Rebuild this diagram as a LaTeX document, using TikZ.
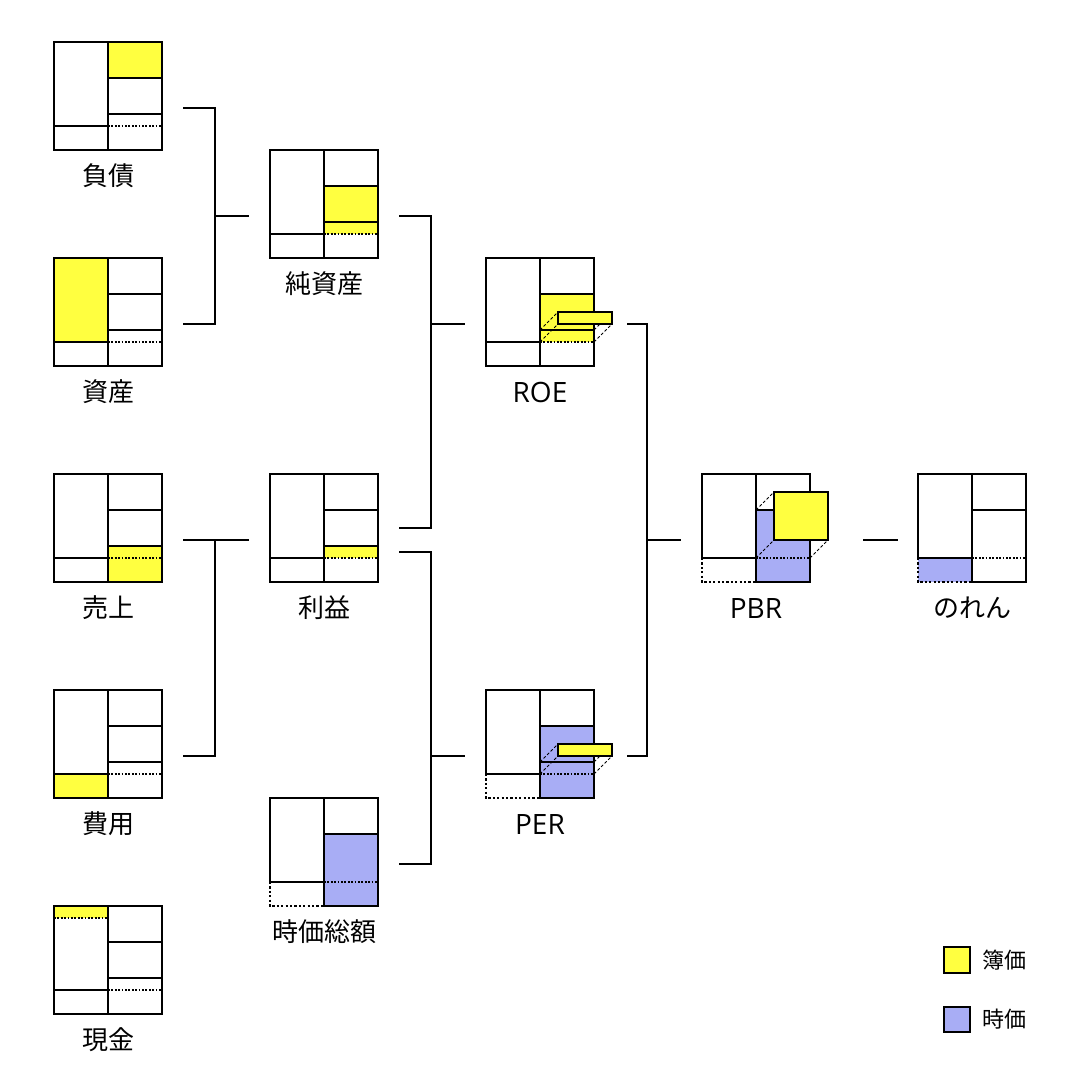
\documentclass[tikz,border=0pt]{standalone}
\usepackage{fontspec}
\setmainfont{Open Sans}
\newfontfamily\cjk{Noto Sans CJK JP}
\definecolor{yel}{RGB}{255,255,64}
\definecolor{blu}{RGB}{168,173,245}
\newcommand\bsfull{%
 \draw[bx] (0,0) rectangle (108,108);
 \draw[bx] (54,0) -- (54,108);
 \draw[bx] (0,84) -- (54,84);
 \draw[bx] (54,36) -- (108,36);
 \draw[bx] (54,72) -- (108,72);
 \draw[dl] (54,84) -- (108,84);}
\newcommand\bsopen{%
 \draw[bx] (0,84) -- (0,0) -- (108,0) -- (108,108) -- (54,108);
 \draw[bx] (54,0) -- (54,108);
 \draw[bx] (0,84) -- (54,84);
 \draw[bx] (54,36) -- (108,36);
 \draw[dlo] (0,84) -- (0,108) -- (54,108);
 \draw[dl] (54,84) -- (108,84);}
\begin{document}
\begin{tikzpicture}[x=1pt,y=-1pt,
  bx/.style={line width=2.7pt, line cap=rect, line join=miter},
  dl/.style={line width=1.6pt, dash pattern=on 1.7pt off 1.7pt},
  dlo/.style={line width=2.5pt, dash pattern=on 2.2pt off 2.2pt},
  thd/.style={line width=0.8pt, dash pattern=on 3pt off 2pt},
  conn/.style={line width=2.4pt, line join=miter},
  jlab/.style={inner sep=0pt, font=\cjk\fontsize{26}{30}\selectfont},
  llab/.style={inner sep=0pt, font=\fontsize{28}{32}\selectfont},
  leg/.style={inner sep=0pt, anchor=west, font=\cjk\fontsize{22}{26}\selectfont}
]
\useasboundingbox (0,0) rectangle (1080,1080);
\fill[white] (0,0) rectangle (1080,1080);

% ---------- column 1 ----------
\begin{scope}[shift={(54,42)}]
 \fill[yel] (54,0) rectangle (108,36);
 \bsfull
\end{scope}
\node[jlab] (lfusai) at (108,176) {負債};

\begin{scope}[shift={(54,258)}]
 \fill[yel] (0,0) rectangle (54,84);
 \bsfull
\end{scope}
\node[jlab] (lshisan) at (108,392) {資産};

\begin{scope}[shift={(54,474)}]
 \fill[yel] (54,72) rectangle (108,108);
 \bsfull
\end{scope}
\node[jlab] (luriage) at (108,608) {売上};

\begin{scope}[shift={(54,690)}]
 \fill[yel] (0,84) rectangle (54,108);
 \bsfull
\end{scope}
\node[jlab] (lhiyou) at (108,824) {費用};

\begin{scope}[shift={(54,906)}]
 \fill[yel] (0,0) rectangle (54,12);
 \bsfull
 \draw[dl] (0,12) -- (54,12);
\end{scope}
\node[jlab] (lgenkin) at (108,1040) {現金};

% ---------- column 2 ----------
\begin{scope}[shift={(270,150)}]
 \fill[yel] (54,36) rectangle (108,84);
 \bsfull
\end{scope}
\node[jlab] (ljun) at (324,284) {純資産};

\begin{scope}[shift={(270,474)}]
 \fill[yel] (54,72) rectangle (108,84);
 \bsfull
\end{scope}
\node[jlab] (lrieki) at (324,608) {利益};

\begin{scope}[shift={(270,798)}]
 \fill[blu] (54,36) rectangle (108,108);
 \bsopen
\end{scope}
\node[jlab] (ljika) at (324,932) {時価総額};

% ---------- column 3 ----------
\begin{scope}[shift={(486,258)}]
 \fill[yel] (54,36) rectangle (108,84);
 \bsfull
 \draw[thd] (54,72) -- (72,54);
 \draw[thd] (54,84) -- (72,66);
 \draw[thd] (108,84) -- (126,66);
 \draw[thd] (108,72) -- (126,54);
 \draw[bx, fill=yel] (72,54) rectangle (126,66);
\end{scope}
\node[llab] (lroe) at (540,392) {ROE};

\begin{scope}[shift={(486,690)}]
 \fill[blu] (54,36) rectangle (108,108);
 \bsopen
 \draw[bx] (54,72) -- (108,72);
 \draw[thd] (54,72) -- (72,54);
 \draw[thd] (54,84) -- (72,66);
 \draw[thd] (108,84) -- (126,66);
 \draw[thd] (108,72) -- (126,54);
 \draw[bx, fill=yel] (72,54) rectangle (126,66);
\end{scope}
\node[llab] (lper) at (540,824) {PER};

% ---------- PBR ----------
\begin{scope}[shift={(702,474)}]
 \fill[blu] (54,36) rectangle (108,108);
 \bsopen
 \draw[thd] (54,36) -- (72,18);
 \draw[thd] (54,84) -- (72,66);
 \draw[thd] (108,84) -- (126,66);
 \draw[bx, fill=yel] (72,18) rectangle (126,66);
\end{scope}
\node[llab] (lpbr) at (756,608) {PBR};

% ---------- のれん ----------
\begin{scope}[shift={(918,474)}]
 \fill[blu] (0,84) rectangle (54,108);
 \bsopen
\end{scope}
\node[jlab] (lnoren) at (972,608) {のれん};

% ---------- connectors ----------
\coordinate (fusaiR) at (183,108);
\coordinate (shisanR) at (183,324);
\coordinate (j1) at (215,216);
\coordinate (junL) at (249,216);
\draw[conn] (fusaiR) -| (j1) |- (shisanR);
\draw[conn] (j1) -- (junL);

\coordinate (uriageR) at (183,540);
\coordinate (hiyouR) at (183,756);
\coordinate (j2) at (215,540);
\coordinate (riekiL) at (249,540);
\draw[conn] (riekiL) -- (j2) |- (hiyouR);
\draw[conn] (j2) -- (uriageR);

\coordinate (junR) at (399,216);
\coordinate (riekiRa) at (399,528);
\coordinate (j3) at (431,324);
\coordinate (roeL) at (465,324);
\draw[conn] (junR) -| (j3) |- (riekiRa);
\draw[conn] (j3) -- (roeL);

\coordinate (riekiRb) at (399,552);
\coordinate (jikaR) at (399,864);
\coordinate (j4) at (431,756);
\coordinate (perL) at (465,756);
\draw[conn] (riekiRb) -| (j4) |- (jikaR);
\draw[conn] (j4) -- (perL);

\coordinate (roeR) at (627,324);
\coordinate (perR) at (627,756);
\coordinate (j5) at (647,540);
\coordinate (pbrL) at (681,540);
\draw[conn] (roeR) -| (j5) |- (perR);
\draw[conn] (j5) -- (pbrL);

\coordinate (pbrR) at (863,540);
\coordinate (norenL) at (898,540);
\draw[conn] (pbrR) -- (norenL);

% ---------- legend ----------
\draw[line width=2.3pt, fill=yel] (944,947) rectangle (970,973);
\node[leg] (lboka) at (982,960) {簿価};
\draw[line width=2.3pt, fill=blu] (944,1007) rectangle (970,1032);
\node[leg] (ljikal) at (982,1019) {時価};
\end{tikzpicture}
\end{document}
